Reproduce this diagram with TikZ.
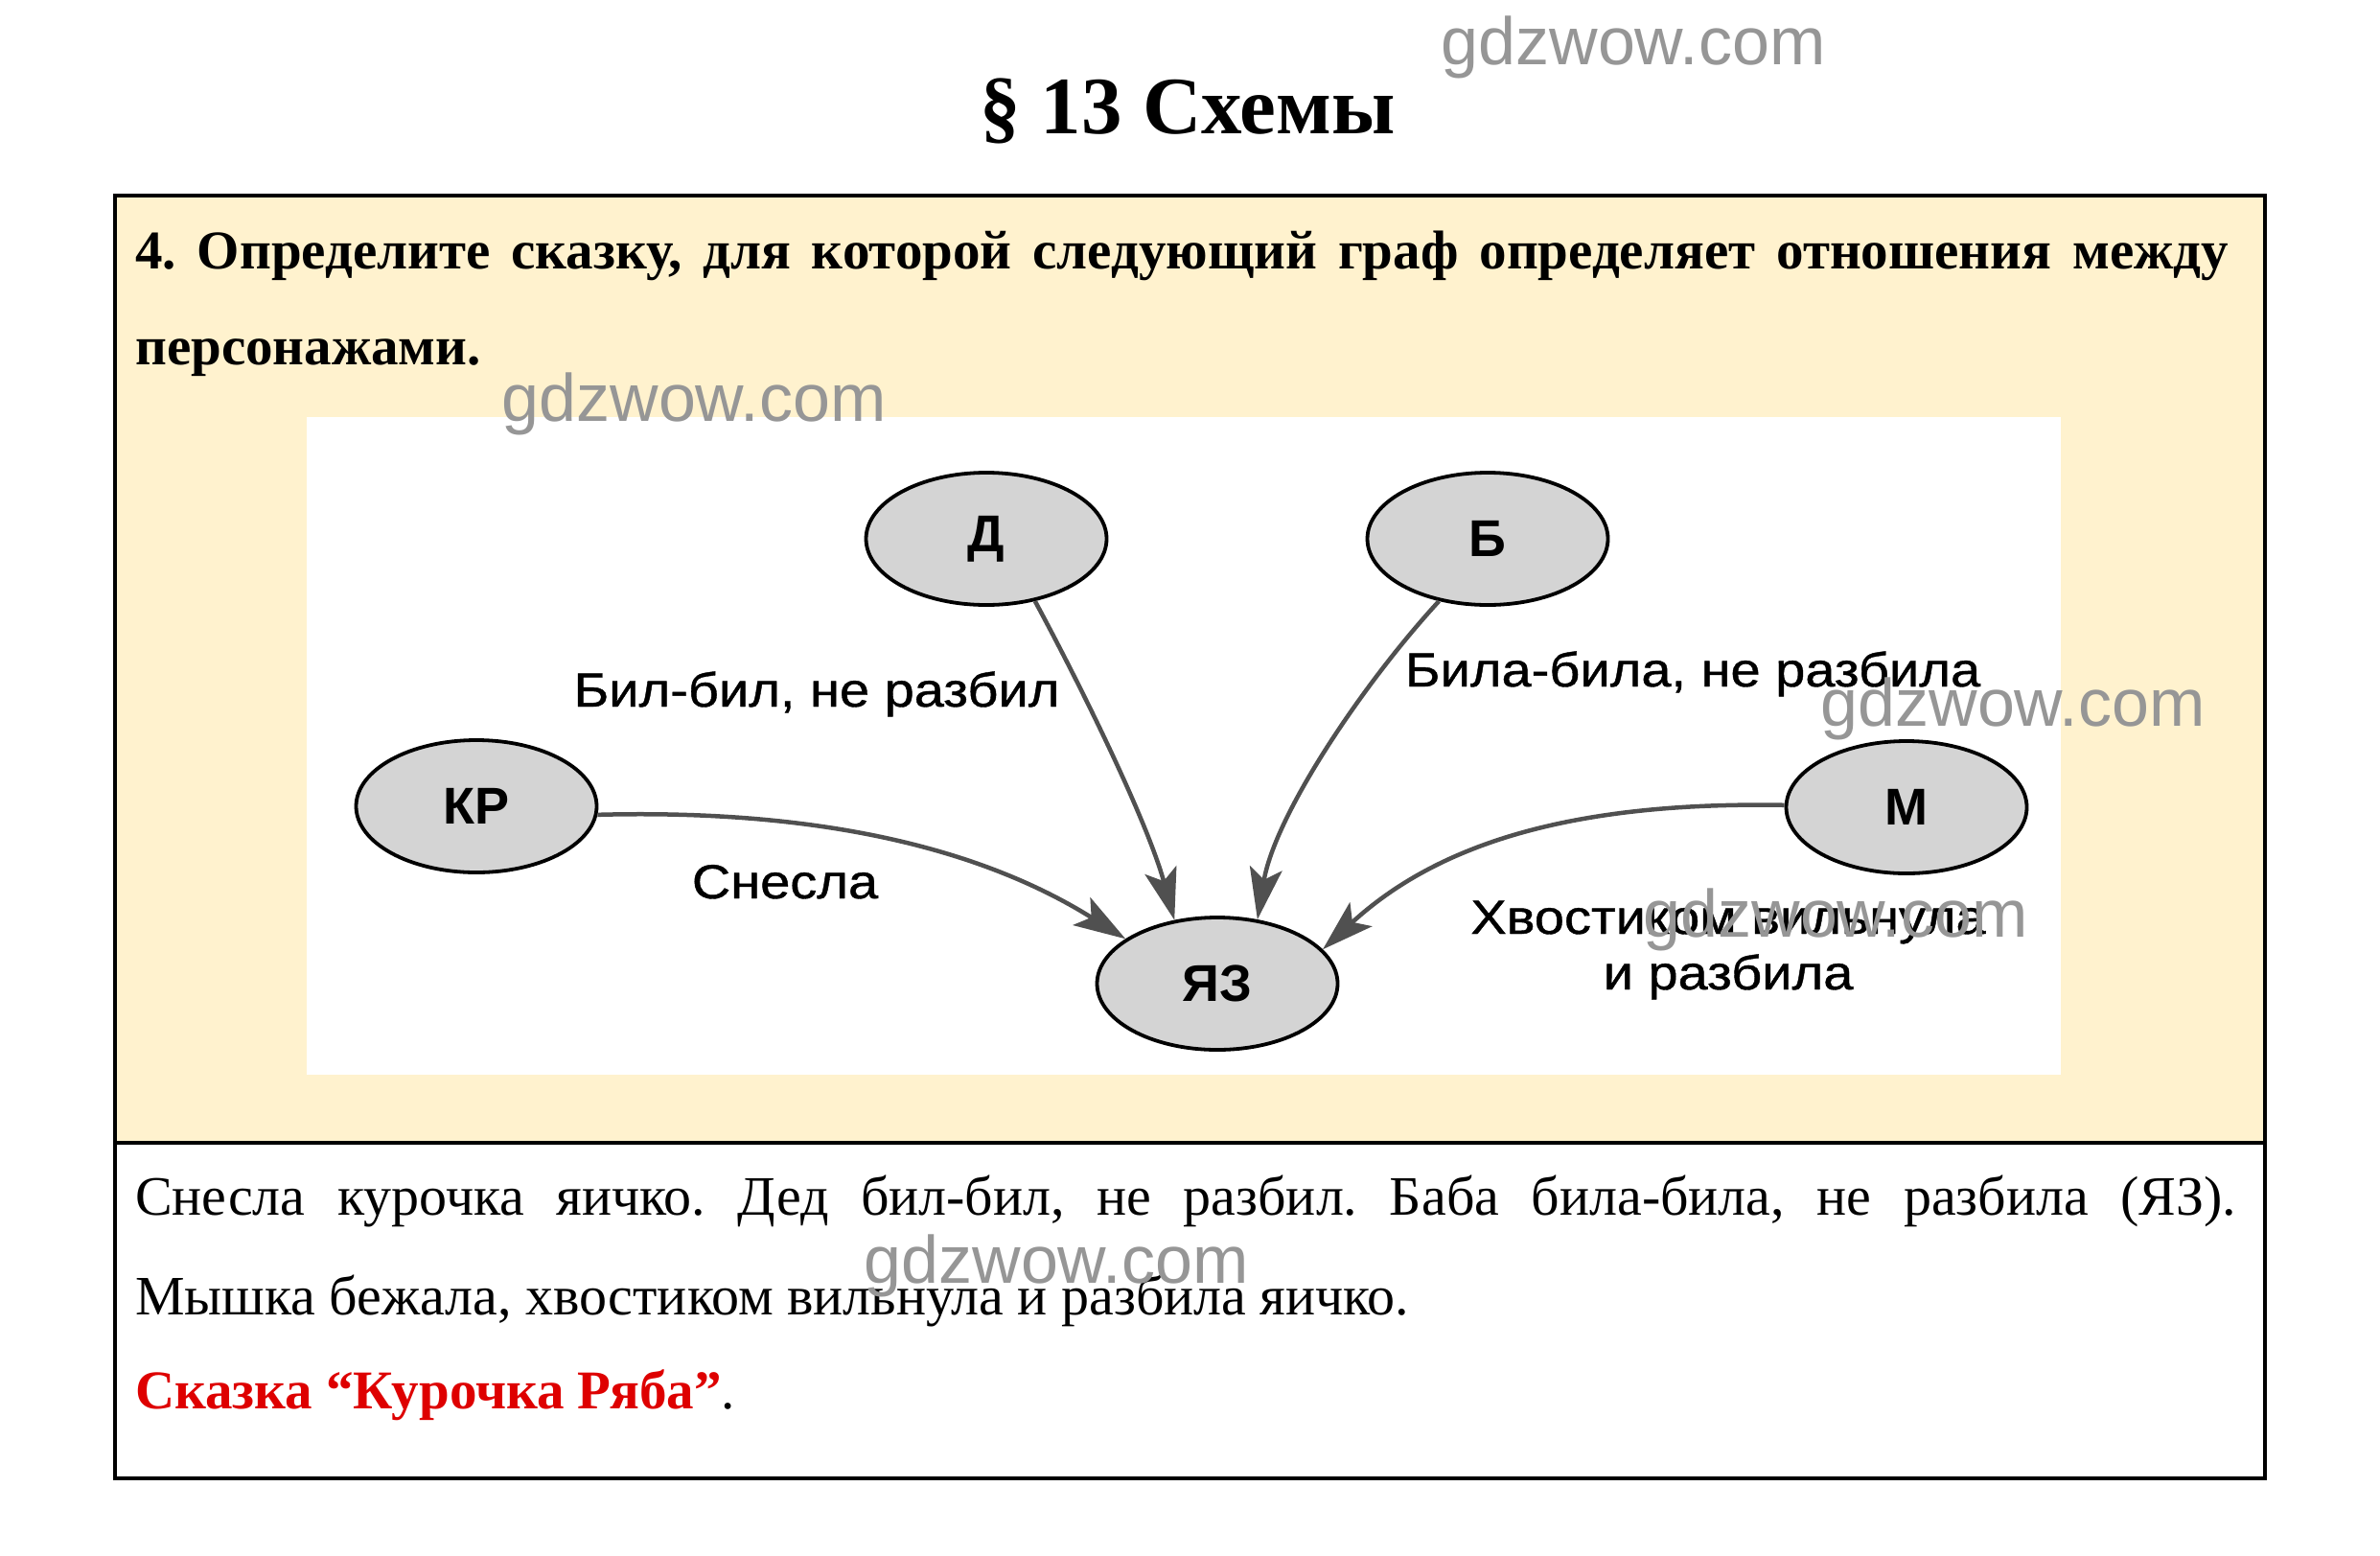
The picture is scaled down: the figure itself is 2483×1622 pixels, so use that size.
\documentclass[tikz,border=0pt]{standalone}
\usepackage{fontspec}
\setmainfont{Liberation Serif}
\newfontfamily\lsans{Liberation Sans}
\newfontfamily\lsanswide[FakeStretch=1.12,FakeBold=0.8]{Liberation Sans}
\usetikzlibrary{shapes.geometric,arrows.meta}
\definecolor{cream}{RGB}{255,242,206}
\definecolor{nodegray}{RGB}{212,212,212}
\definecolor{edgegray}{RGB}{80,80,80}
\definecolor{wmgray}{RGB}{150,150,150}
\definecolor{ansred}{RGB}{222,0,0}
\frenchspacing
\begin{document}
\begin{tikzpicture}[x=1pt,y=-1pt,
  charnode/.style={ellipse, draw=black, line width=3.8pt, fill=nodegray, minimum width=251pt, minimum height=138pt, inner sep=0pt, font=\lsans\bfseries\fontsize{54}{60}\selectfont},
  rel/.style={draw=edgegray, line width=4.5pt, -{Stealth[length=54pt,width=34pt,inset=12pt]}},
  elabel/.style={anchor=base, inner sep=0pt, font=\lsanswide\fontsize{50}{58}\selectfont, align=center},
  wm/.style={anchor=base, inner sep=0pt, text=wmgray, font=\lsans\fontsize{70}{80}\selectfont},
  txt/.style={anchor=base west, inner sep=0pt}]
\useasboundingbox (0,0) rectangle (2483,1622);
\fill[white] (0,0) rectangle (2483,1622);
\fill[cream] (120,204) rectangle (2363,1192);
\fill[white] (320,435) rectangle (2150,1121);
\draw[line width=3.5pt] (120,204) rectangle (2363,1542);
\draw[line width=3.5pt] (120,1192) -- (2363,1192);

% title
\node[anchor=base, inner sep=0pt, font=\bfseries\fontsize{85}{95}\selectfont] (title) at (1239,139) {§ 13 Схемы};

% question
\node[txt, font=\bfseries\fontsize{57}{64}\selectfont] (q1) at (141,280)
  {\makebox[2184pt][s]{4. Определите сказку, для которой следующий граф определяет отношения между}};
\node[txt, font=\bfseries\fontsize{57}{64}\selectfont] (q2) at (141,380) {персонажами.};

% graph nodes
\node[charnode] (d) at (1029,562) {Д};
\node[charnode] (b) at (1552,562) {Б};
\node[charnode] (kr) at (497,841) {КР};
\node[charnode] (m) at (1989,842) {М};
\node[charnode] (yz) at (1270,1026) {ЯЗ};

% edges
\draw[rel] (d.-52) .. controls (1130,720) and (1197,857) .. (yz.124);
\draw[rel] (b.-128) .. controls (1422,713) and (1330,850) .. (yz.58);
\draw[rel] (kr.-4) .. controls (880,843) and (1040,895) .. (yz.154);
\draw[rel] (m.179) .. controls (1640,836) and (1500,880) .. (yz.18);

% edge labels
\node[elabel] (ld) at (852,737) {Бил-бил, не разбил};
\node[elabel] (lb) at (1766,716) {Била-била, не разбила};
\node[elabel] (lkr) at (819,937) {Снесла};
\node[elabel] (lm) at (1803,1032) {Хвостиком вильнула\\и разбила};

% answer
\node[txt, font=\fontsize{58}{64}\selectfont] (a1) at (141,1267)
  {\makebox[2192pt][s]{Снесла курочка яичко. Дед бил-бил, не разбил. Баба била-била, не разбила (ЯЗ).}};
\node[txt, font=\fontsize{58}{64}\selectfont] (a2) at (141,1371)
  {Мышка бежала, хвостиком вильнула и разбила яичко.};
\node[txt, font=\fontsize{57}{64}\selectfont] (a3) at (141,1469)
  {\textcolor{ansred}{\bfseries Сказка “Курочка Ряба”}.};

% watermarks
\node[wm] (w1) at (1704,67) {gdzwow.com};
\node[wm] (w2) at (724,439) {gdzwow.com};
\node[wm] (w3) at (2100,757) {gdzwow.com};
\node[wm] (w4) at (1915,977) {gdzwow.com};
\node[wm] (w5) at (1102,1338) {gdzwow.com};
\end{tikzpicture}
\end{document}
